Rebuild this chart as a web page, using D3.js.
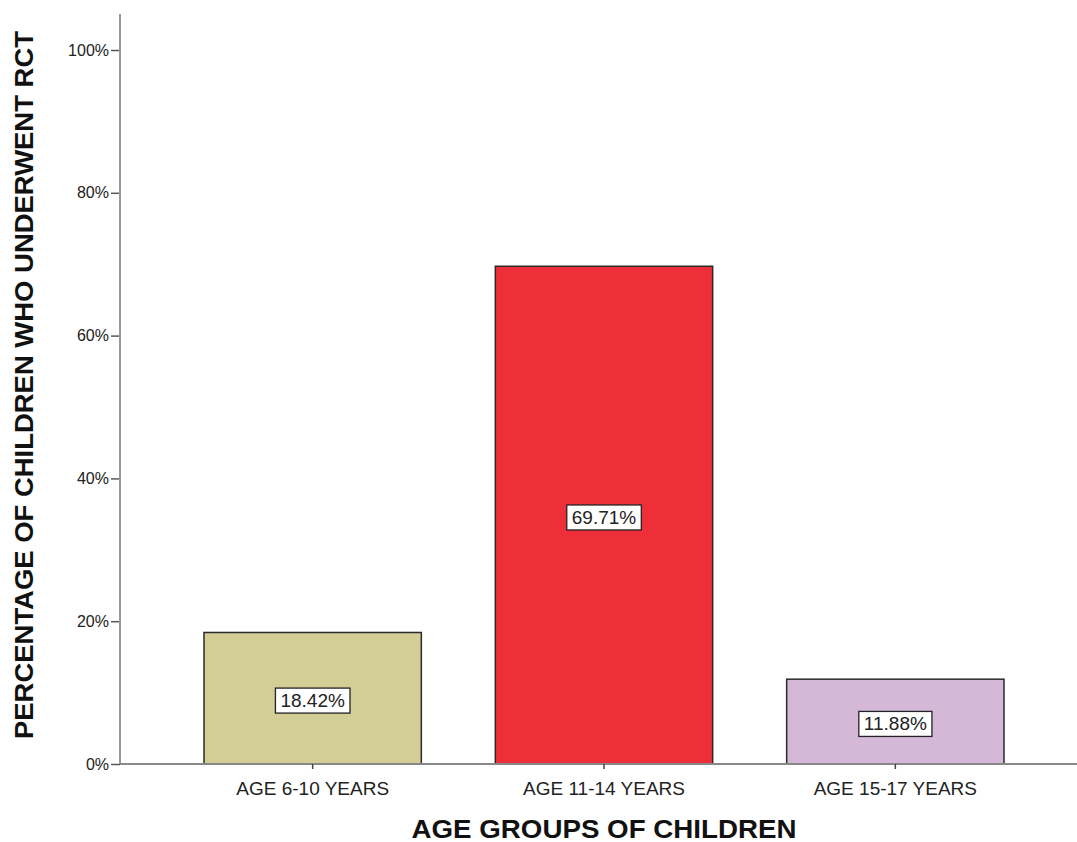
<!DOCTYPE html>
<html><head><meta charset="utf-8">
<script src="https://cdn.jsdelivr.net/npm/d3@7"></script>
<style>body{margin:0;background:#fff}svg{display:block}</style>
</head><body>
<svg id="c" width="1077" height="842"></svg>
<script>
const categories = ["AGE 6-10 YEARS", "AGE 11-14 YEARS", "AGE 15-17 YEARS"];
const values = [18.42, 69.71, 11.88];
const colors = ["#d3cd96", "#ee2f39", "#d5b7d8"];
const yTicks = [0, 20, 40, 60, 80, 100];

const FONT = "Arial, 'Liberation Sans', sans-serif";
const svg = d3.select("#c");
const x = d3.scaleBand().domain(categories).range([167, 1041]).paddingInner(0.254).paddingOuter(0.127);
const y = d3.scaleLinear().domain([0, 100]).range([764, 50]);

// bars
svg.selectAll("rect.bar").data(values).join("rect")
  .attr("class", "bar")
  .attr("x", (d, i) => x(categories[i]))
  .attr("width", x.bandwidth())
  .attr("y", d => y(d))
  .attr("height", d => y(0) - y(d))
  .attr("fill", (d, i) => colors[i])
  .attr("stroke", "#2a2a2a").attr("stroke-width", 1.5);

// y axis
const yAxis = svg.append("g").attr("transform", "translate(120,0)")
  .call(d3.axisLeft(y).tickValues(yTicks).tickFormat(d => d + "%").tickSize(9).tickPadding(2));
yAxis.select(".domain").remove();
yAxis.selectAll(".tick line").attr("stroke", "#555").attr("stroke-width", 1.5);
yAxis.selectAll(".tick text").attr("font-family", FONT).attr("font-size", 16).attr("fill", "#222");
svg.append("line").attr("x1", 120).attr("x2", 120).attr("y1", 14).attr("y2", y(0))
  .attr("stroke", "#999").attr("stroke-width", 2);

// x axis
svg.append("line").attr("x1", 120).attr("x2", 1077).attr("y1", y(0)).attr("y2", y(0))
  .attr("stroke", "#888").attr("stroke-width", 2);
const xAxis = svg.append("g").attr("transform", `translate(0,${y(0)})`)
  .call(d3.axisBottom(x).tickSize(5).tickPadding(13));
xAxis.select(".domain").remove();
xAxis.selectAll(".tick line").attr("stroke", "#444").attr("stroke-width", 1.5);
xAxis.selectAll(".tick text").attr("font-family", FONT).attr("font-size", 19).attr("fill", "#222");

// value labels
const lab = svg.selectAll("g.lab").data(values).join("g").attr("class", "lab")
  .attr("transform", (d, i) => `translate(${x(categories[i]) + x.bandwidth() / 2},${(y(d) + y(0)) / 2 + 2})`);
lab.append("text").attr("text-anchor", "middle").attr("dy", "0.36em")
  .attr("font-family", FONT).attr("font-size", 19).attr("fill", "#222")
  .text(d => d.toFixed(2) + "%");
lab.each(function () {
  const g = d3.select(this);
  const b = g.select("text").node().getBBox();
  g.insert("rect", "text").attr("x", b.x - 5).attr("y", b.y - 2).attr("width", b.width + 10).attr("height", b.height + 4)
    .attr("fill", "#fff").attr("stroke", "#222").attr("stroke-width", 1.3);
});

// titles
svg.append("text").attr("x", 604).attr("y", 838).attr("text-anchor", "middle")
  .attr("font-family", FONT).attr("font-weight", "bold").attr("font-size", 25).attr("fill", "#111")
  .attr("textLength", 385).attr("lengthAdjust", "spacingAndGlyphs")
  .text("AGE GROUPS OF CHILDREN");
svg.append("text").attr("transform", "translate(33,385) rotate(-90)").attr("text-anchor", "middle")
  .attr("font-family", FONT).attr("font-weight", "bold").attr("font-size", 25).attr("fill", "#111")
  .attr("textLength", 708).attr("lengthAdjust", "spacingAndGlyphs")
  .text("PERCENTAGE OF CHILDREN WHO UNDERWENT RCT");
</script>
</body></html>
